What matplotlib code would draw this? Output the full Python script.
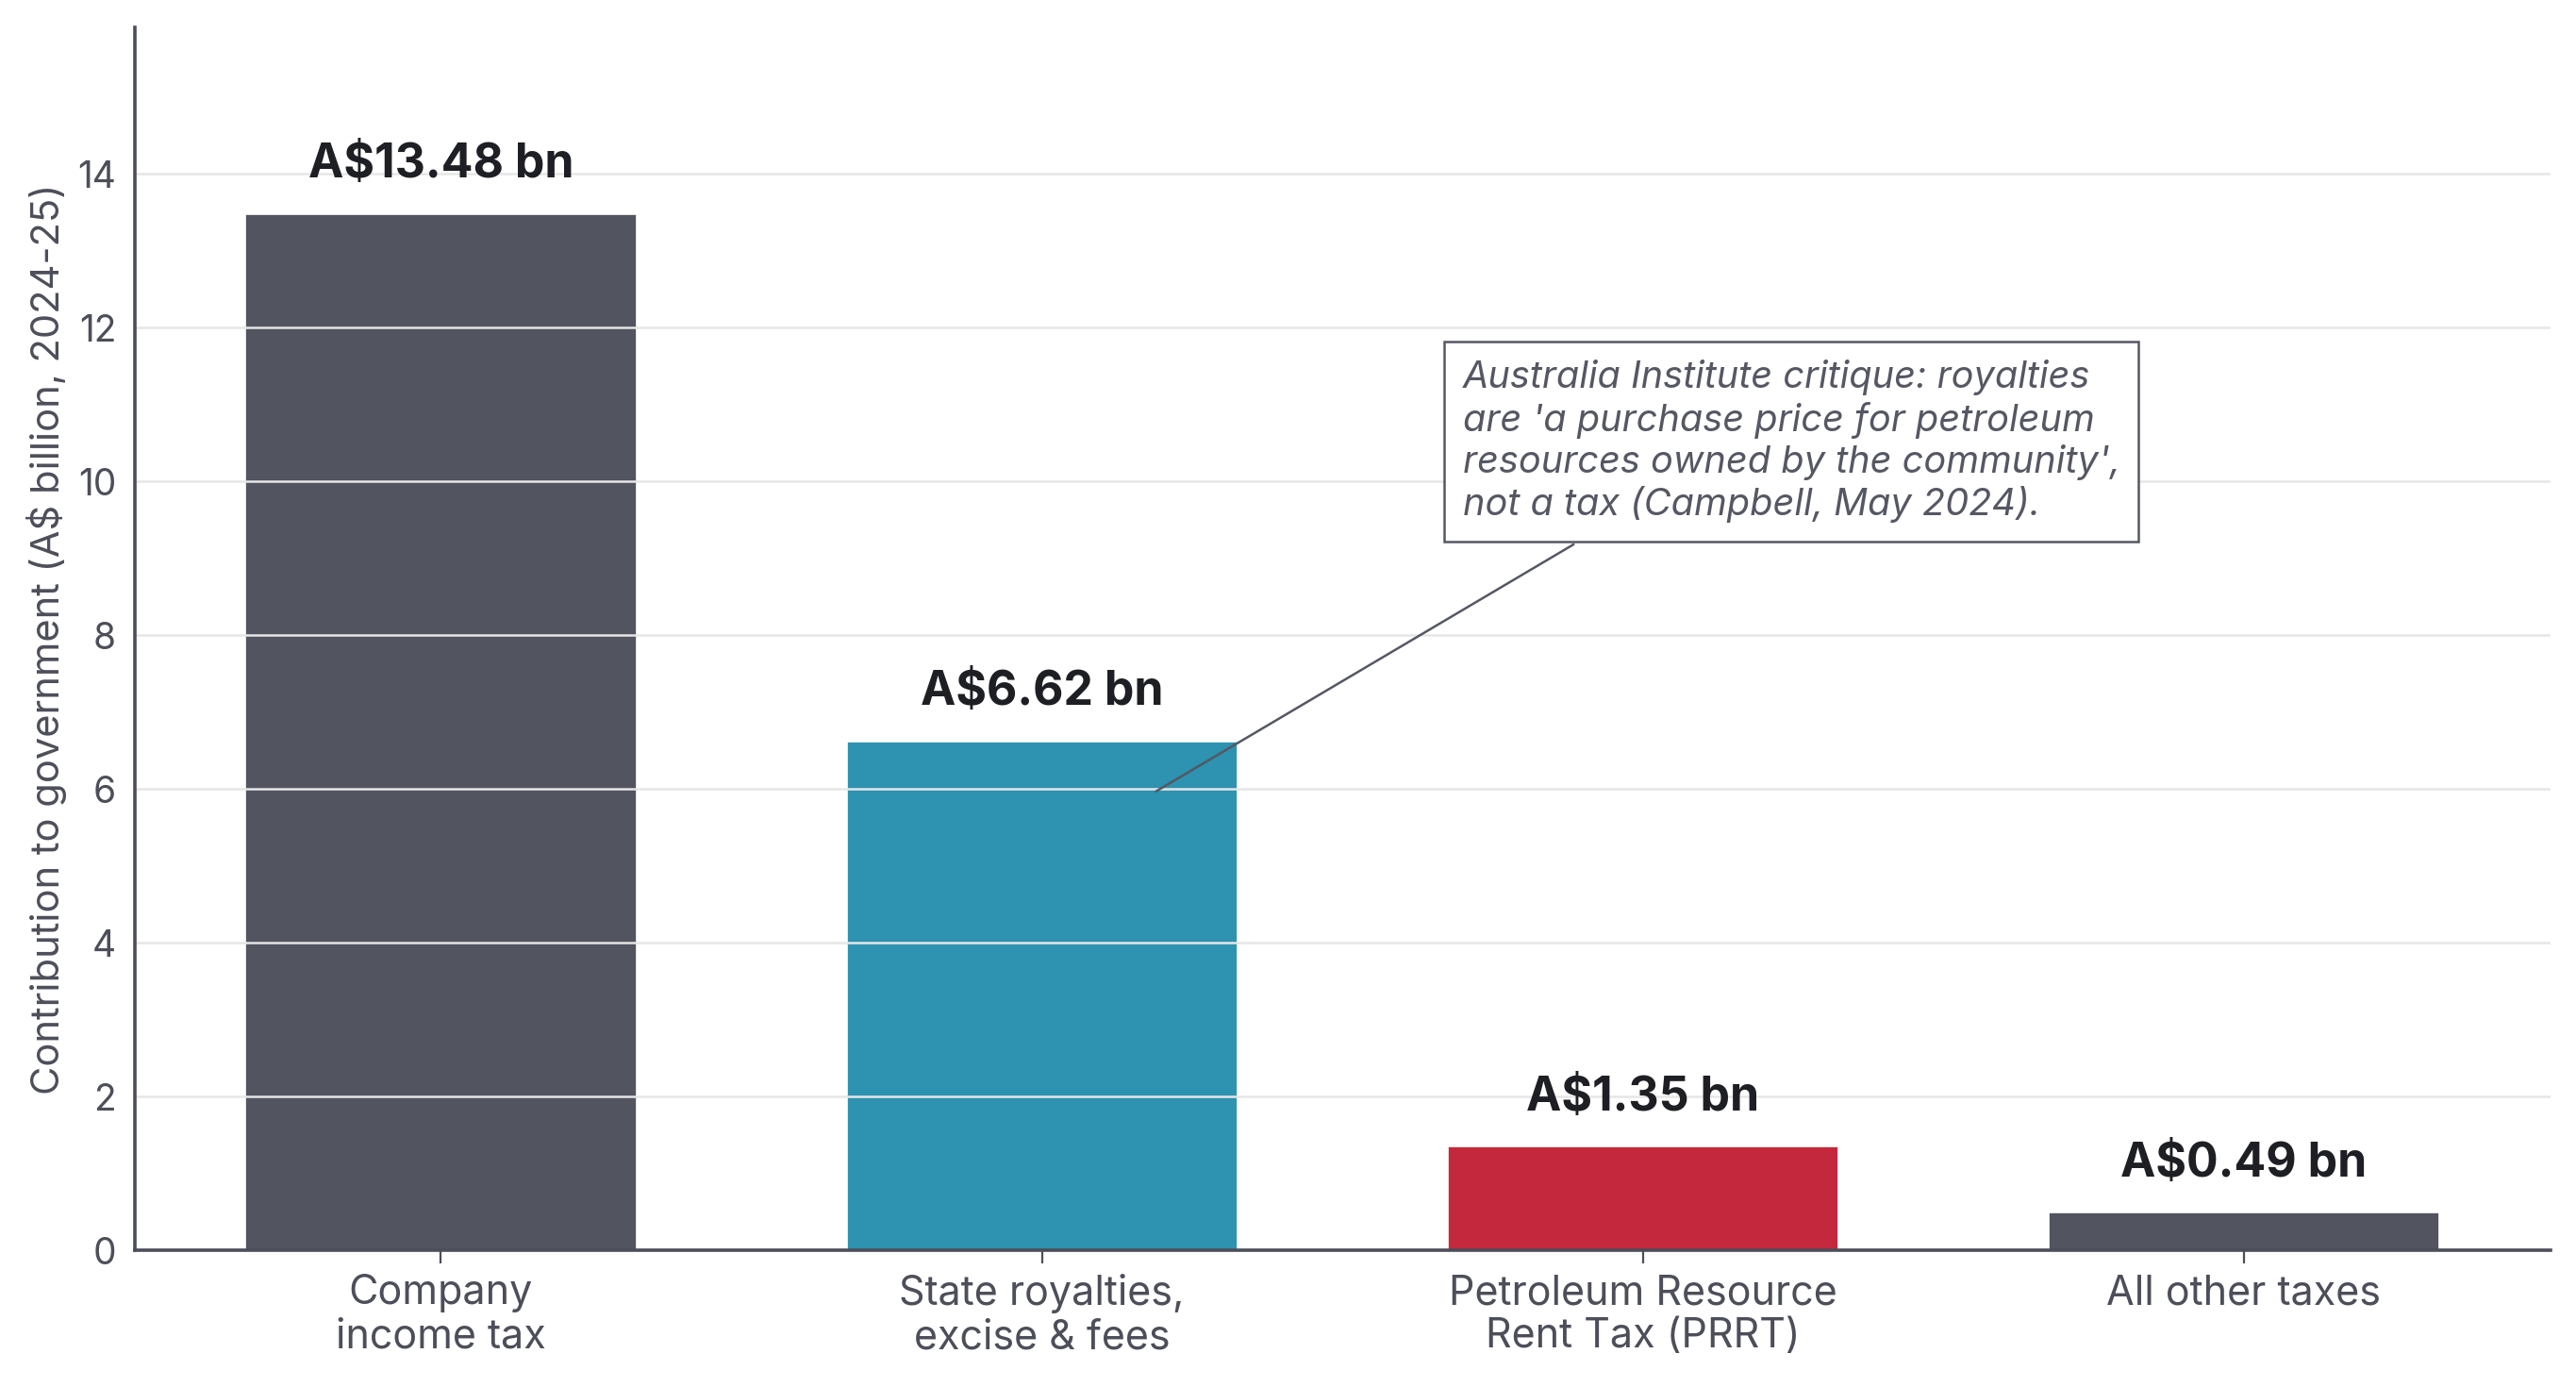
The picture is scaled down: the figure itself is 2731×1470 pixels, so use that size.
import numpy as np
import matplotlib.pyplot as plt

categories = ['Company\nincome tax', 'State royalties,\nexcise & fees',
              'Petroleum Resource\nRent Tax (PRRT)', 'All other taxes']
values = [13.48, 6.62, 1.35, 0.49]
labels = ['A$13.48 bn', 'A$6.62 bn', 'A$1.35 bn', 'A$0.49 bn']
colors = ['#52545f', '#2e92b1', '#c4283c', '#52545f']
note = ("Australia Institute critique: royalties\n"
        "are 'a purchase price for petroleum\n"
        "resources owned by the community',\n"
        "not a tax (Campbell, May 2024).")

plt.rcParams['font.family'] = ['Inter', 'DejaVu Sans']
grey = '#4c4e59'

fig, ax = plt.subplots(figsize=(13.655, 7.35), dpi=200)
fig.subplots_adjust(left=0.0522, right=0.990, top=0.98, bottom=0.0985)

x = np.arange(len(categories))
ax.bar(x, values, width=0.65, color=colors, edgecolor='white', linewidth=0.6, zorder=2)
ax.set_axisbelow(False)
ax.yaxis.grid(True, color='#e6e6e6', linewidth=0.9, zorder=3)

for xi, v, lab in zip(x, values, labels):
    ax.text(xi, v + 0.35, lab, ha='center', va='bottom', fontsize=18,
            fontweight='bold', color='#1e1f24', zorder=4)

ax.set_xlim(-0.51, 3.51)
ax.set_ylim(0, 15.9)
ax.set_yticks(range(0, 15, 2))
ax.set_xticks(x)
ax.set_xticklabels(categories, fontsize=15.5, color=grey, linespacing=1.15)
ax.tick_params(axis='y', length=0, labelsize=14, labelcolor=grey, pad=7)
ax.tick_params(axis='x', length=5, color=grey, width=0.8, pad=4)
ax.set_ylabel('Contribution to government (A$ billion, 2024-25)', fontsize=15,
              color=grey, labelpad=4)

for s in ['top', 'right']:
    ax.spines[s].set_visible(False)
for s in ['left', 'bottom']:
    ax.spines[s].set_color(grey)
    ax.spines[s].set_linewidth(1.3)
    ax.spines[s].set_zorder(5)

ax.annotate(note, xy=(1.19, 5.97), xytext=(1.70, 11.58),
            fontsize=14.3, style='italic', color='#555763', ha='left', va='top',
            linespacing=1.2,
            bbox=dict(boxstyle='square,pad=0.5', fc='white', ec='#555763', lw=0.9),
            arrowprops=dict(arrowstyle='-', color='#555763', lw=0.9,
                            relpos=(0.225, 0.0), shrinkA=2, shrinkB=0),
            zorder=6)

fig.savefig('out.png', dpi=200)
